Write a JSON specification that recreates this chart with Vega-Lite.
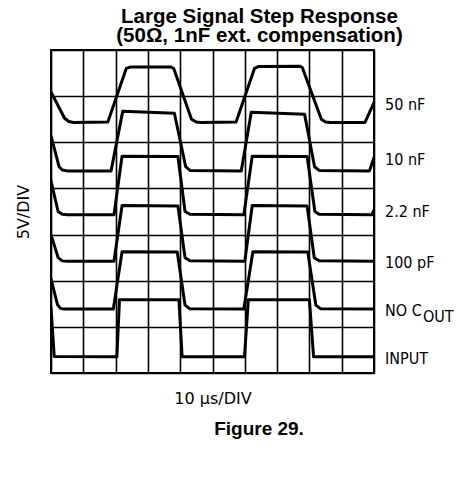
{
  "$schema": "https://vega.github.io/schema/vega-lite/v6.json",
  "autosize": "none",
  "width": 323,
  "height": 323,
  "padding": {"left": 51, "top": 50, "right": 83, "bottom": 106},
  "background": "white",
  "title": {
    "text": ["Large Signal Step Response", "(50Ω, 1nF ext. compensation)"],
    "font": "Liberation Sans",
    "fontWeight": "bold",
    "fontSize": 20.5,
    "lineHeight": 19,
    "color": "black",
    "anchor": "middle",
    "dx": 47,
    "offset": 4
  },
  "config": {
    "view": {"stroke": "black", "strokeWidth": 2},
    "axis": {
      "grid": true,
      "gridColor": "black",
      "gridOpacity": 1,
      "gridWidth": 1.6,
      "domain": false,
      "ticks": false,
      "labels": false,
      "titleFont": "DejaVu Sans",
      "titleFontWeight": "normal",
      "titleFontSize": 16,
      "titleColor": "black"
    }
  },
  "datasets": {
    "traces": [
      {"trace": "50 nF", "t": 0, "v": 6.09},
      {"trace": "50 nF", "t": 0.42, "v": 5.52},
      {"trace": "50 nF", "t": 0.55, "v": 5.45},
      {"trace": "50 nF", "t": 0.7, "v": 5.43},
      {"trace": "50 nF", "t": 1.76, "v": 5.44},
      {"trace": "50 nF", "t": 2.33, "v": 6.6},
      {"trace": "50 nF", "t": 2.45, "v": 6.63},
      {"trace": "50 nF", "t": 3.72, "v": 6.63},
      {"trace": "50 nF", "t": 3.8, "v": 6.6},
      {"trace": "50 nF", "t": 4.35, "v": 5.5},
      {"trace": "50 nF", "t": 4.5, "v": 5.44},
      {"trace": "50 nF", "t": 4.65, "v": 5.43},
      {"trace": "50 nF", "t": 5.73, "v": 5.44},
      {"trace": "50 nF", "t": 6.3, "v": 6.6},
      {"trace": "50 nF", "t": 6.42, "v": 6.64},
      {"trace": "50 nF", "t": 7.7, "v": 6.65},
      {"trace": "50 nF", "t": 7.78, "v": 6.62},
      {"trace": "50 nF", "t": 8.37, "v": 5.5},
      {"trace": "50 nF", "t": 8.5, "v": 5.44},
      {"trace": "50 nF", "t": 8.65, "v": 5.43},
      {"trace": "50 nF", "t": 9.72, "v": 5.43},
      {"trace": "50 nF", "t": 10, "v": 5.86},

      {"trace": "10 nF", "t": 0, "v": 5.14},
      {"trace": "10 nF", "t": 0.25, "v": 4.47},
      {"trace": "10 nF", "t": 0.35, "v": 4.4},
      {"trace": "10 nF", "t": 0.5, "v": 4.38},
      {"trace": "10 nF", "t": 1.86, "v": 4.38},
      {"trace": "10 nF", "t": 2.22, "v": 5.67},
      {"trace": "10 nF", "t": 3.82, "v": 5.63},
      {"trace": "10 nF", "t": 4.17, "v": 4.47},
      {"trace": "10 nF", "t": 4.3, "v": 4.39},
      {"trace": "10 nF", "t": 5.89, "v": 4.38},
      {"trace": "10 nF", "t": 6.2, "v": 5.65},
      {"trace": "10 nF", "t": 7.85, "v": 5.61},
      {"trace": "10 nF", "t": 8.16, "v": 4.47},
      {"trace": "10 nF", "t": 8.3, "v": 4.39},
      {"trace": "10 nF", "t": 9.86, "v": 4.38},
      {"trace": "10 nF", "t": 10, "v": 4.67},

      {"trace": "2.2 nF", "t": 0, "v": 4.16},
      {"trace": "2.2 nF", "t": 0.22, "v": 3.5},
      {"trace": "2.2 nF", "t": 0.35, "v": 3.44},
      {"trace": "2.2 nF", "t": 0.5, "v": 3.43},
      {"trace": "2.2 nF", "t": 1.95, "v": 3.43},
      {"trace": "2.2 nF", "t": 2.2, "v": 4.7},
      {"trace": "2.2 nF", "t": 3.93, "v": 4.69},
      {"trace": "2.2 nF", "t": 4.15, "v": 3.5},
      {"trace": "2.2 nF", "t": 4.3, "v": 3.44},
      {"trace": "2.2 nF", "t": 5.97, "v": 3.43},
      {"trace": "2.2 nF", "t": 6.23, "v": 4.7},
      {"trace": "2.2 nF", "t": 7.93, "v": 4.69},
      {"trace": "2.2 nF", "t": 8.17, "v": 3.5},
      {"trace": "2.2 nF", "t": 8.3, "v": 3.44},
      {"trace": "2.2 nF", "t": 9.93, "v": 3.43},
      {"trace": "2.2 nF", "t": 10, "v": 3.53},

      {"trace": "100 pF", "t": 0, "v": 3.0},
      {"trace": "100 pF", "t": 0.22, "v": 2.5},
      {"trace": "100 pF", "t": 0.35, "v": 2.43},
      {"trace": "100 pF", "t": 0.5, "v": 2.42},
      {"trace": "100 pF", "t": 1.95, "v": 2.42},
      {"trace": "100 pF", "t": 2.2, "v": 3.63},
      {"trace": "100 pF", "t": 3.93, "v": 3.62},
      {"trace": "100 pF", "t": 4.15, "v": 2.5},
      {"trace": "100 pF", "t": 4.3, "v": 2.43},
      {"trace": "100 pF", "t": 6.0, "v": 2.42},
      {"trace": "100 pF", "t": 6.23, "v": 3.63},
      {"trace": "100 pF", "t": 7.93, "v": 3.62},
      {"trace": "100 pF", "t": 8.15, "v": 2.5},
      {"trace": "100 pF", "t": 8.3, "v": 2.43},
      {"trace": "100 pF", "t": 10, "v": 2.42},

      {"trace": "NO C", "t": 0, "v": 2.04},
      {"trace": "NO C", "t": 0.2, "v": 1.48},
      {"trace": "NO C", "t": 0.3, "v": 1.4},
      {"trace": "NO C", "t": 0.4, "v": 1.385},
      {"trace": "NO C", "t": 1.93, "v": 1.385},
      {"trace": "NO C", "t": 2.2, "v": 2.63},
      {"trace": "NO C", "t": 3.91, "v": 2.62},
      {"trace": "NO C", "t": 4.15, "v": 1.47},
      {"trace": "NO C", "t": 4.3, "v": 1.39},
      {"trace": "NO C", "t": 5.97, "v": 1.385},
      {"trace": "NO C", "t": 6.25, "v": 2.63},
      {"trace": "NO C", "t": 7.95, "v": 2.62},
      {"trace": "NO C", "t": 8.2, "v": 1.47},
      {"trace": "NO C", "t": 8.35, "v": 1.39},
      {"trace": "NO C", "t": 10, "v": 1.385},

      {"trace": "INPUT", "t": 0, "v": 1.42},
      {"trace": "INPUT", "t": 0.1, "v": 0.36},
      {"trace": "INPUT", "t": 2.04, "v": 0.35},
      {"trace": "INPUT", "t": 2.12, "v": 1.59},
      {"trace": "INPUT", "t": 3.96, "v": 1.59},
      {"trace": "INPUT", "t": 4.06, "v": 0.35},
      {"trace": "INPUT", "t": 5.99, "v": 0.35},
      {"trace": "INPUT", "t": 6.11, "v": 1.59},
      {"trace": "INPUT", "t": 8.0, "v": 1.59},
      {"trace": "INPUT", "t": 8.13, "v": 0.35},
      {"trace": "INPUT", "t": 10, "v": 0.35}
    ],
    "caption": [{"text": "Figure 29.", "t": 6.44, "v": -1.35}]
  },
  "layer": [
    {
      "data": {"name": "traces"},
      "mark": {"type": "line", "color": "black", "strokeWidth": 3, "strokeJoin": "round", "strokeCap": "round", "clip": true},
      "encoding": {
        "x": {
          "field": "t", "type": "quantitative",
          "scale": {"domain": [0, 10], "nice": false, "zero": false},
          "axis": {"values": [0, 1, 2, 3, 4, 5, 6, 7, 8, 9, 10], "title": "10 μs/DIV", "titlePadding": 17}
        },
        "y": {
          "field": "v", "type": "quantitative",
          "scale": {"domain": [0, 7], "nice": false, "zero": false},
          "axis": {"values": [0, 1, 2, 3, 4, 5, 6, 7], "title": "5V/DIV", "titlePadding": 20}
        },
        "detail": {"field": "trace"},
        "order": {"field": "t"}
      }
    },
    {
      "data": {"name": "traces"},
      "transform": [{"filter": "datum.t === 10"}],
      "mark": {"type": "text", "align": "left", "baseline": "middle", "dx": 11, "dy": 2, "font": "DejaVu Sans Condensed", "fontSize": 16, "color": "black"},
      "encoding": {
        "x": {"field": "t", "type": "quantitative", "axis": {"values": [0, 1, 2, 3, 4, 5, 6, 7, 8, 9, 10], "title": "10 μs/DIV", "titlePadding": 17}},
        "y": {"field": "v", "type": "quantitative", "axis": {"values": [0, 1, 2, 3, 4, 5, 6, 7], "title": "5V/DIV", "titlePadding": 20}},
        "text": {"field": "trace"}
      }
    },
    {
      "data": {"name": "traces"},
      "transform": [{"filter": "datum.t === 10 && datum.trace === 'NO C'"}],
      "mark": {"type": "text", "align": "left", "baseline": "middle", "dx": 49, "dy": 8, "font": "DejaVu Sans Condensed", "fontSize": 16, "color": "black", "text": "OUT"},
      "encoding": {
        "x": {"field": "t", "type": "quantitative", "axis": {"values": [0, 1, 2, 3, 4, 5, 6, 7, 8, 9, 10], "title": "10 μs/DIV", "titlePadding": 17}},
        "y": {"field": "v", "type": "quantitative", "axis": {"values": [0, 1, 2, 3, 4, 5, 6, 7], "title": "5V/DIV", "titlePadding": 20}}
      }
    },
    {
      "data": {"name": "caption"},
      "mark": {"type": "text", "align": "center", "baseline": "alphabetic", "font": "Liberation Sans", "fontWeight": "bold", "fontSize": 19, "color": "black", "clip": false},
      "encoding": {
        "x": {"field": "t", "type": "quantitative", "axis": {"values": [0, 1, 2, 3, 4, 5, 6, 7, 8, 9, 10], "title": "10 μs/DIV", "titlePadding": 17}},
        "y": {"field": "v", "type": "quantitative", "axis": {"values": [0, 1, 2, 3, 4, 5, 6, 7], "title": "5V/DIV", "titlePadding": 20}},
        "text": {"field": "text"}
      }
    }
  ]
}
